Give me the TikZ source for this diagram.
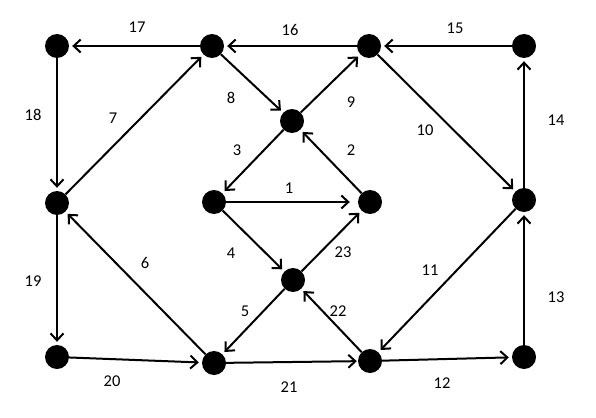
\documentclass[tikz,border=0pt]{standalone}
\usepackage{fontspec}
\setmainfont{Carlito}
\usetikzlibrary{arrows.meta}
\begin{document}
\begin{tikzpicture}[x=1pt,y=-1pt,
  vtx/.style={circle,fill=black,inner sep=0pt,minimum size=24pt},
  edge/.style={line width=2pt,-{Straight Barb[length=7pt,width=13pt,line width=2pt]},shorten >=3pt},
  lbl/.style={font=\fontsize{16.5}{18}\selectfont}]
\useasboundingbox (0,0) rectangle (596,417);
\node[vtx] (A) at (57,46) {};
\node[vtx] (B) at (212,46) {};
\node[vtx] (C) at (369,46) {};
\node[vtx] (D) at (524,46) {};
\node[vtx] (E) at (292,121) {};
\node[vtx] (F) at (57,203) {};
\node[vtx] (G) at (214,202) {};
\node[vtx] (H) at (370,202) {};
\node[vtx] (I) at (524,200) {};
\node[vtx] (J) at (293,280) {};
\node[vtx] (K) at (57,357) {};
\node[vtx] (L) at (214,363) {};
\node[vtx] (M) at (370,361) {};
\node[vtx] (N) at (524,357) {};
\draw[edge] (B) -- (A);
\draw[edge] (C) -- (B);
\draw[edge] (D) -- (C);
\draw[edge] (A) -- (F);
\draw[edge] (F) -- (B);
\draw[edge] (B) -- (E);
\draw[edge] (E) -- (C);
\draw[edge] (C) -- (I);
\draw[edge] (I) -- (D);
\draw[edge] (E) -- (G);
\draw[edge] (H) -- (E);
\draw[edge,shorten >=8pt] (G) -- (H);
\draw[edge] (G) -- (J);
\draw[edge] (J) -- (H);
\draw[edge] (J) -- (L);
\draw[edge] (M) -- (J);
\draw[edge] (L) -- (F);
\draw[edge] (F) -- (K);
\draw[edge] (K) -- (L);
\draw[edge,shorten >=1pt] (L) -- (M);
\draw[edge] (I) -- (M);
\draw[edge] (M) -- (N);
\draw[edge] (N) -- (I);
\node[lbl] (l17) at (137,27) {17};
\node[lbl] (l16) at (290,30) {16};
\node[lbl] (l15) at (455,28) {15};
\node[lbl] (l18) at (33,115) {18};
\node[lbl] (l7) at (113,118) {7};
\node[lbl] (l8) at (231,98) {8};
\node[lbl] (l9) at (351,102) {9};
\node[lbl] (l10) at (425,130) {10};
\node[lbl] (l14) at (556,120) {14};
\node[lbl] (l3) at (237,150) {3};
\node[lbl] (l2) at (351,150) {2};
\node[lbl] (l1) at (289,188) {1};
\node[lbl] (l4) at (231,253) {4};
\node[lbl] (l23) at (343,252) {23};
\node[lbl] (l5) at (245,311) {5};
\node[lbl] (l22) at (338,311) {22};
\node[lbl] (l6) at (145,263) {6};
\node[lbl] (l19) at (33,281) {19};
\node[lbl] (l20) at (112,381) {20};
\node[lbl] (l21) at (289,387) {21};
\node[lbl] (l11) at (430,270) {11};
\node[lbl] (l12) at (442,383) {12};
\node[lbl] (l13) at (556,297) {13};
\end{tikzpicture}
\end{document}
